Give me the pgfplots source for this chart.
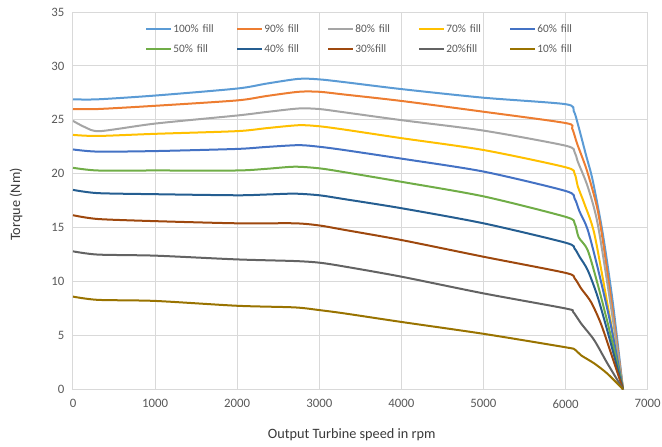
\documentclass[border=0pt]{standalone}
\usepackage{pgfplots}
\pgfplotsset{compat=1.18}
\usepackage{fontspec}
\setmainfont{Carlito}
\definecolor{cA}{HTML}{5B9BD5}
\definecolor{cB}{HTML}{ED7D31}
\definecolor{cC}{HTML}{A5A5A5}
\definecolor{cD}{HTML}{FFC000}
\definecolor{cE}{HTML}{4472C4}
\definecolor{cF}{HTML}{70AD47}
\definecolor{cG}{HTML}{255E91}
\definecolor{cH}{HTML}{9E480E}
\definecolor{cI}{HTML}{636363}
\definecolor{cJ}{HTML}{997300}
\definecolor{gridc}{HTML}{D9D9D9}
\definecolor{tickc}{HTML}{595959}
\definecolor{labc}{HTML}{3A3A3A}
\begin{document}
\begin{tikzpicture}
\useasboundingbox (-54.75pt,-42.75pt) rectangle (441.75pt,292pt);
\begin{axis}[
  at={(0pt,0pt)}, anchor=south west,
  scale only axis, width=431pt, height=283pt,
  xmin=0, xmax=7000, ymin=0, ymax=35,
  xtick distance=1000, ytick distance=5,
  grid=major, major grid style={gridc, line width=0.75pt},
  axis line style={gridc, line width=0.75pt},
  major tick length=0pt,
  /pgf/number format/assume math mode=true,
  /pgf/number format/set thousands separator={},
  ticklabel style={font=\fontsize{9.6}{11}\selectfont, text=tickc},
  xticklabel style={yshift=-4pt},
  yticklabel style={xshift=-3pt},
  xlabel={Output Turbine speed in rpm},
  ylabel={Torque (Nm)},
  label style={font=\fontsize{10.7}{12}\selectfont, text=labc},
  xlabel style={at={(axis description cs:0.485,-0.119)}, anchor=center},
  ylabel style={at={(axis description cs:-0.099,0.49)}, anchor=center, rotate=0},
  legend columns=5,
  legend image code/.code={\draw[#1] (0pt,0pt) -- (18.75pt,0pt);},
  legend style={at={(axis description cs:0.125,0.975)}, anchor=north west,
    draw=none, fill=none, inner sep=0pt,
    font=\fontsize{8.5}{10}\selectfont, text=tickc,
    nodes={text width=46pt, inner xsep=1pt, inner ysep=2pt, align=left},
    /tikz/every odd column/.append style={column sep=0pt},
    row sep=3.5pt},
  legend cell align=left,
  every axis plot/.append style={line width=1.5pt, smooth, tension=0.45},
]
\addplot[cA] coordinates {(0,26.9) (300,26.9) (1000,27.25) (2000,27.9) (2350,28.35) (2750,28.8) (3000,28.75) (3300,28.5) (4000,27.85) (5000,27.05) (6000,26.45) (6100,25.8) (6150,24.6) (6250,21.7) (6330,19.4) (6450,14.6) (6573,8.2) (6700,0)};
\addlegendentry{100\% fill}
\addplot[cB] coordinates {(0,26.0) (300,26.0) (1000,26.3) (2000,26.8) (2350,27.2) (2750,27.6) (3000,27.6) (3300,27.35) (4000,26.75) (5000,25.75) (6000,24.7) (6080,24.2) (6140,22.8) (6260,20.3) (6380,17.0) (6450,14.0) (6570,7.5) (6700,0)};
\addlegendentry{90\% fill}
\addplot[cC] coordinates {(0,24.9) (150,24.3) (330,23.95) (1000,24.65) (2000,25.4) (2350,25.72) (2750,26.05) (3000,26.0) (3300,25.7) (4000,24.97) (5000,24.0) (6000,22.6) (6110,22.0) (6150,21.1) (6270,18.8) (6390,15.4) (6550,7.8) (6700,0)};
\addlegendentry{80\% fill}
\addplot[cD] coordinates {(0,23.6) (300,23.5) (1000,23.7) (2000,23.95) (2350,24.22) (2750,24.5) (3000,24.4) (3300,24.1) (4000,23.3) (5000,22.2) (6000,20.6) (6110,20.0) (6150,18.8) (6230,17.2) (6350,14.45) (6520,7.5) (6700,0)};
\addlegendentry{70\% fill}
\addplot[cE] coordinates {(0,22.25) (300,22.05) (1000,22.1) (2000,22.3) (2350,22.48) (2750,22.65) (3000,22.5) (3300,22.2) (4000,21.4) (5000,20.2) (6000,18.4) (6110,17.7) (6170,16.5) (6270,14.8) (6400,11.0) (6550,6.0) (6700,0)};
\addlegendentry{60\% fill}
\addplot[cF] coordinates {(0,20.55) (300,20.3) (1000,20.3) (2000,20.3) (2350,20.45) (2700,20.65) (3000,20.5) (3300,20.15) (4000,19.25) (5000,17.9) (6000,16.0) (6110,15.4) (6160,14.1) (6270,12.9) (6400,9.5) (6550,5.0) (6700,0)};
\addlegendentry{50\% fill}
\addplot[cG] coordinates {(0,18.5) (300,18.2) (1000,18.1) (2000,18.0) (2350,18.07) (2700,18.15) (3000,18.0) (3300,17.65) (4000,16.8) (5000,15.4) (6000,13.6) (6110,13.05) (6170,12.3) (6270,11.05) (6390,8.6) (6530,4.85) (6700,0)};
\addlegendentry{40\% fill}
\addplot[cH] coordinates {(0,16.15) (300,15.8) (1000,15.6) (2000,15.4) (2700,15.4) (3000,15.2) (3300,14.8) (4000,13.85) (5000,12.3) (6000,10.8) (6110,10.3) (6190,9.35) (6310,8.1) (6430,6.1) (6560,3.2) (6700,0)};
\addlegendentry{30\%fill}
\addplot[cI] coordinates {(0,12.8) (300,12.5) (1000,12.4) (2000,12.05) (2700,11.9) (3000,11.75) (3300,11.4) (4000,10.45) (5000,8.9) (6000,7.5) (6090,7.2) (6190,6.1) (6350,4.55) (6510,2.4) (6700,0)};
\addlegendentry{20\%fill}
\addplot[cJ] coordinates {(0,8.6) (300,8.3) (1000,8.2) (2000,7.75) (2700,7.6) (3000,7.35) (3300,7.05) (4000,6.25) (5000,5.15) (6000,3.9) (6110,3.7) (6190,3.15) (6350,2.4) (6510,1.45) (6700,0)};
\addlegendentry{10\% fill}
\end{axis}
\end{tikzpicture}
\end{document}
